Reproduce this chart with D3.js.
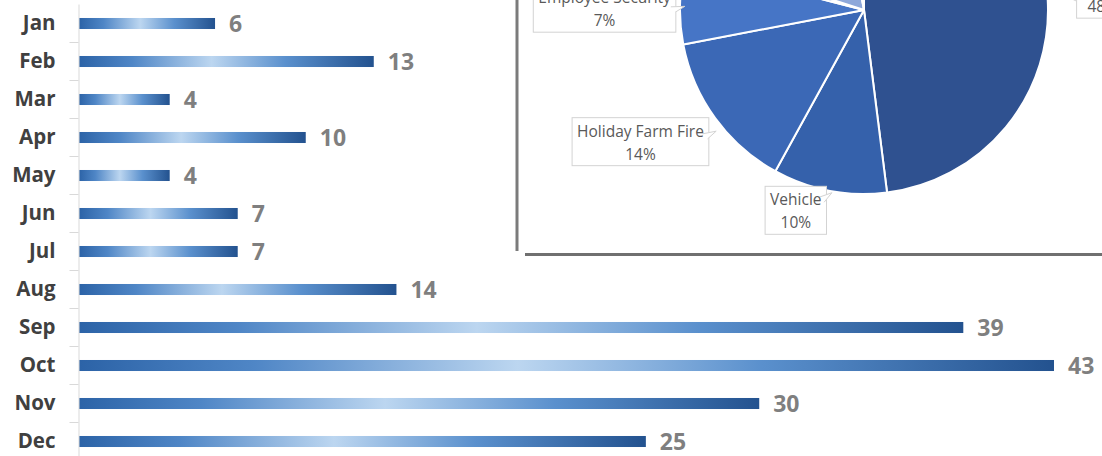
<!DOCTYPE html>
<html>
<head>
<meta charset="utf-8">
<script src="https://cdn.jsdelivr.net/npm/d3@7"></script>
<style>
  html, body { margin: 0; padding: 0; background: #ffffff; overflow: hidden; }
  svg { display: block; }
</style>
</head>
<body>
<svg id="chart" width="1102" height="456"></svg>
<script>
// Monthly counts
const months = ["Jan", "Feb", "Mar", "Apr", "May", "Jun", "Jul", "Aug", "Sep", "Oct", "Nov", "Dec"];
const monthCounts = [6, 13, 4, 10, 4, 7, 7, 14, 39, 43, 30, 25];

// Share by cause (percent), clockwise from twelve o'clock
const causeNames = ["Other", "Vehicle", "Holiday Farm Fire", "Employee Security", "Unlisted 1", "Unlisted 2", "Unlisted 3"];
const causeShares = [48, 10, 14, 7, 1, 17, 3];
const causeColors = ["#2f5190", "#3561ab", "#3b68b6", "#4675c6", "#4a78c8", "#8ea8da", "#5a80c4"];
const labelledCauses = ["Other", "Vehicle", "Holiday Farm Fire", "Employee Security"];

const W = 1102, H = 456;
const svg = d3.select("#chart");
const FONT = "'Open Sans', 'Liberation Sans', sans-serif";

// ---------- Bar chart ----------
const axisX = 78.5;
const y = d3.scaleBand().domain(months).range([4, 460]).padding(0);
const x = d3.scaleLinear().domain([0, 43]).range([axisX + 0.5, 1054]);

const defs = svg.append("defs");
const grad = defs.append("linearGradient")
  .attr("id", "barGrad").attr("x1", 0).attr("x2", 1).attr("y1", 0).attr("y2", 0);
[[0, "#2c63a7"], [0.18, "#4f86c6"], [0.45, "#bcd6f0"], [0.7, "#5a90cd"], [1, "#23528f"]]
  .forEach(([o, c]) => grad.append("stop").attr("offset", o).attr("stop-color", c));

const barH = y.bandwidth() * 0.29;
const barRows = months.map((m, i) => ({ month: m, value: monthCounts[i] }));

svg.append("g").selectAll("rect")
  .data(barRows).join("rect")
  .attr("x", x(0))
  .attr("y", d => y(d.month) + y.bandwidth() / 2 - barH / 2 + 0.5)
  .attr("width", d => x(d.value) - x(0))
  .attr("height", barH)
  .attr("fill", "url(#barGrad)");

// Category axis
const yAxis = d3.axisLeft(y).tickSize(0).tickFormat("");
const gAxis = svg.append("g").attr("transform", `translate(${axisX},0)`).call(yAxis);
gAxis.select(".domain").attr("stroke", "#d9d9d9").attr("stroke-width", 1);
// tick marks sit on band boundaries
svg.append("g").selectAll("line")
  .data(months)
  .join("line")
  .attr("x1", axisX - 9).attr("x2", axisX)
  .attr("y1", d => Math.round(y(d) + y.step()) + 0.5)
  .attr("y2", d => Math.round(y(d) + y.step()) + 0.5)
  .attr("stroke", "#d9d9d9");

svg.append("g").selectAll("text")
  .data(barRows).join("text")
  .attr("x", axisX - 23)
  .attr("y", d => y(d.month) + y.bandwidth() / 2)
  .attr("dy", "0.36em")
  .attr("text-anchor", "end")
  .attr("font-family", FONT)
  .attr("font-weight", 700)
  .attr("font-size", 20.5)
  .attr("fill", "#404040")
  .text(d => d.month);

svg.append("g").selectAll("text")
  .data(barRows).join("text")
  .attr("x", d => x(d.value) + 14)
  .attr("y", d => y(d.month) + y.bandwidth() / 2 + 1)
  .attr("dy", "0.36em")
  .attr("font-family", FONT)
  .attr("font-weight", 700)
  .attr("font-size", 23)
  .attr("fill", "#7f7f7f")
  .text(d => d.value);

// ---------- Pie inset ----------
// frame edges
svg.append("line").attr("x1", 517).attr("x2", 517).attr("y1", 0).attr("y2", 251)
  .attr("stroke", "#7b7b7b").attr("stroke-width", 3);
svg.append("line").attr("x1", 525).attr("x2", W).attr("y1", 254.5).attr("y2", 254.5)
  .attr("stroke", "#707070").attr("stroke-width", 3);

const cx = 864, cy = 10, R = 184;
const pieRows = causeNames.map((n, i) => ({ name: n, value: causeShares[i], color: causeColors[i] }));
const arcs = d3.pie().sort(null).value(d => d.value).startAngle(0).endAngle(2 * Math.PI)(pieRows);
const arc = d3.arc().innerRadius(0).outerRadius(R);

const gPie = svg.append("g").attr("transform", `translate(${cx},${cy})`);
gPie.selectAll("path")
  .data(arcs).join("path")
  .attr("d", arc)
  .attr("fill", d => d.data.color)
  .attr("stroke", "#ffffff")
  .attr("stroke-width", 2)
  .attr("stroke-linejoin", "round");

// callout placement: radial distance factor and angular nudge (degrees)
const calloutPlacement = {
  "Other": { k: 1.30, da: -0.2 },
  "Vehicle": { k: 1.15, da: 8 },
  "Holiday Farm Fire": { k: 1.41, da: 5.5 },
  "Employee Security": { k: 1.41, da: -1.4 }
};
const polar = (a, r) => [r * Math.sin(a), -r * Math.cos(a)];

const gLab = svg.append("g").attr("transform", `translate(${cx},${cy})`);
arcs.filter(d => labelledCauses.includes(d.data.name)).forEach(d => {
  const p = calloutPlacement[d.data.name];
  const mid = (d.startAngle + d.endAngle) / 2;
  const [lx, ly] = polar(mid + p.da * Math.PI / 180, R * p.k);
  const g = gLab.append("g");
  const t1 = g.append("text").attr("x", lx).attr("y", ly - 5)
    .attr("text-anchor", "middle").attr("font-family", FONT).attr("font-size", 15.5)
    .attr("fill", "#595959").text(d.data.name);
  const t2 = g.append("text").attr("x", lx).attr("y", ly + 18)
    .attr("text-anchor", "middle").attr("font-family", FONT).attr("font-size", 15.5)
    .attr("fill", "#595959").text(d3.format(".0%")(d.value / 100));
  const w = Math.max(t1.node().getComputedTextLength(), t2.node().getComputedTextLength()) + 10;
  const h = 48;
  const bx = lx - w / 2, by = ly - 24;
  // pointer toward the slice edge
  const [ex, ey] = polar(mid, R);
  const dx = ex - lx, dy = ey - ly;
  const len = Math.hypot(dx, dy);
  const ux = dx / len, uy = dy / len;
  const cxBox = Math.max(bx, Math.min(bx + w, lx + ux * (w / 2 + 2)));
  const cyBox = Math.max(by, Math.min(by + h, ly + uy * (h / 2 + 2)));
  g.insert("rect", "text").attr("x", bx).attr("y", by).attr("width", w).attr("height", h)
    .attr("fill", "#ffffff").attr("stroke", "#d3d3d3").attr("stroke-width", 1);
  g.insert("path", "text")
    .attr("d", `M${cxBox - 5},${cyBox}L${cxBox + ux * 9},${cyBox + uy * 9}L${cxBox},${cyBox + 5}`)
    .attr("fill", "#ffffff").attr("stroke", "#d3d3d3").attr("stroke-width", 1);
});
</script>
</body>
</html>
